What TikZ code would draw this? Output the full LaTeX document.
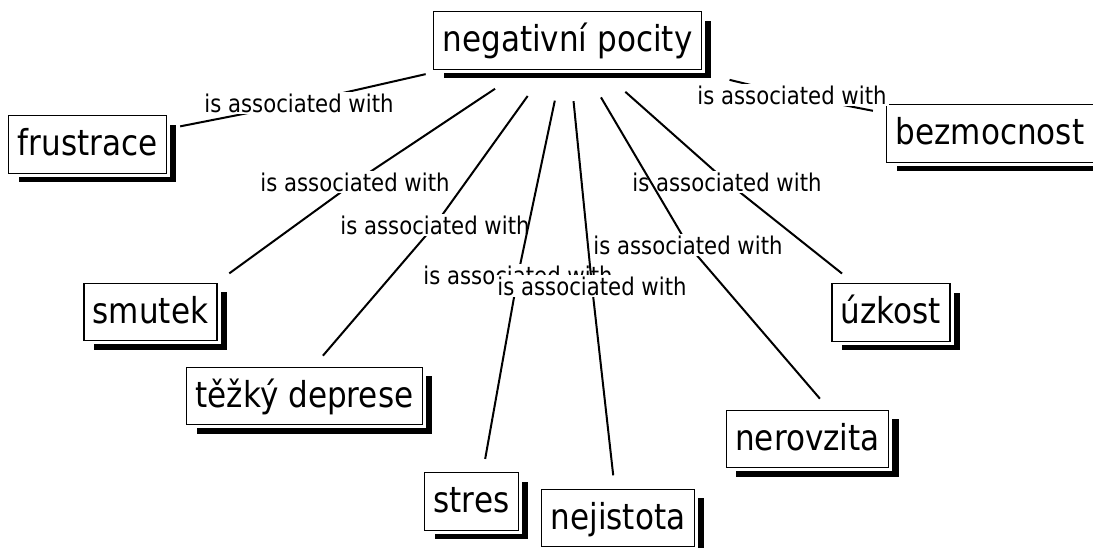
\documentclass[tikz,border=0pt]{standalone}
\usepackage{fontspec}
\setmainfont{DejaVu Sans}[FakeStretch=0.87]
\usetikzlibrary{shadows}
\begin{document}
\begin{tikzpicture}[x=1pt,y=-1pt,
  concept/.style={draw=black, line width=1.4pt, fill=white,
    font=\fontsize{35.7}{40}\selectfont,
    inner xsep=9pt, inner ysep=12pt, text height=27.8pt, text depth=5.7pt,
    outer sep=4pt,
    general shadow={fill=black, shadow xshift=10pt, shadow yshift=-9pt},
    preaction={draw=white, line width=7pt}},
  linklabel/.style={fill=white, inner xsep=2pt, inner ysep=1.5pt,
    font=\fontsize{24.4}{28}\selectfont, text height=18.5pt, text depth=0.5pt},
  conn/.style={line width=2pt, black},
  fromtop/.style={shorten <=28pt},
  tobottom/.style={shorten >=10pt}
]
\useasboundingbox (0,0) rectangle (1093,547);

% concepts
\node[concept] (neg) at (567.5,40.5) {negativní pocity};
\node[concept] (frus) at (87.5,144.5) {frustrace};
\node[concept] (bezm) at (990,133.5) {bezmocnost};
\node[concept] (smut) at (150.5,312) {smutek};
\node[concept] (tezk) at (304.5,396) {těžký deprese};
\node[concept] (stres) at (471.5,501.5) {stres};
\node[concept] (nejis) at (618,518) {nejistota};
\node[concept] (nerov) at (807.5,439) {nerovzita};
\node[concept] (uzko) at (891,312.5) {úzkost};

% link anchor points
\coordinate (c1) at (299,103);
\coordinate (c2) at (792,95);
\coordinate (c3) at (355,182);
\coordinate (c4) at (435,225);
\coordinate (c5) at (727,182);
\coordinate (c6) at (688,245);
\coordinate (c7) at (518,275);
\coordinate (c8) at (592,286);

% each link: its two segments, then its label on top
\draw[conn,shorten <=4pt] (neg.south west) -- (c1); \draw[conn,tobottom] (c1) -- (frus);
\node[linklabel] (l1) at (c1) {is associated with};
\draw[conn,fromtop] (neg) -- (c2); \draw[conn,tobottom] (c2) -- (bezm);
\node[linklabel] (l2) at (c2) {is associated with};
\draw[conn,fromtop] (neg) -- (c3); \draw[conn,tobottom] (c3) -- (smut.north east);
\node[linklabel] (l3) at (c3) {is associated with};
\draw[conn,fromtop] (neg) -- (c4); \draw[conn,tobottom] (c4) -- (tezk.70);
\node[linklabel] (l4) at (c4) {is associated with};
\draw[conn,fromtop] (neg) -- (c5); \draw[conn,tobottom] (c5) -- (uzko);
\node[linklabel] (l5) at (c5) {is associated with};
\draw[conn,fromtop] (neg) -- (c6); \draw[conn,tobottom] (c6) -- (nerov.60);
\node[linklabel] (l6) at (c6) {is associated with};
\draw[conn,fromtop] (neg) -- (c7); \draw[conn,tobottom] (c7) -- (stres.70);
\node[linklabel] (l7) at (c7) {is associated with};
\draw[conn,fromtop] (neg) -- (c8); \draw[conn,tobottom] (c8) -- (nejis);
\node[linklabel] (l8) at (c8) {is associated with};
\end{tikzpicture}
\end{document}
